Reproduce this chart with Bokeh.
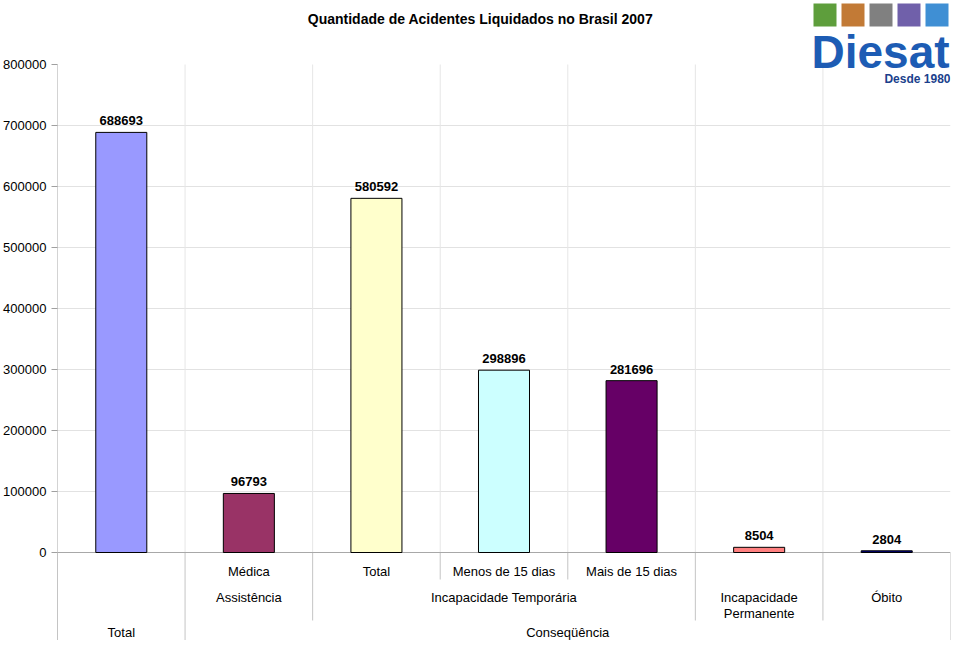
from bokeh.plotting import figure
from bokeh.models import Range1d, FixedTicker, NumeralTickFormatter
from bokeh.core.properties import value
from bokeh.embed import file_html
from bokeh.resources import INLINE

# ---------------- data ----------------
TITLE = "Quantidade de Acidentes Liquidados no Brasil 2007"
values = [688693, 96793, 580592, 298896, 281696, 8504, 2804]
bar_colors = ["#9999FF", "#993366", "#FFFFCC", "#CCFFFF", "#660066", "#FF8080", "#000080"]
level1_labels = ["", "Médica", "Total", "Menos de 15 dias", "Mais de 15 dias", "", ""]
level2_groups = [("Assistência", 1, 2), ("Incapacidade Temporária", 2, 5),
                 ("Incapacidade\nPermanente", 5, 6), ("Óbito", 6, 7)]
level3_groups = [("Total", 0, 1), ("Conseqüência", 1, 7)]
y_ticks = [0, 100000, 200000, 300000, 400000, 500000, 600000, 700000, 800000]
logo_name = "Diesat"
logo_sub = "Desde 1980"
logo_colors = ["#5e9e3c", "#c27a36", "#808080", "#7060aa", "#3f8fd4"]

# ---------------- layout (pixels, figure coordinates) ----------------
W, H = 952, 640
FRAME_L, FRAME_R = 57, 950
ZERO_Y, TOP_Y, BOTTOM_Y = 552, 64, 640
LEVEL_Y = {1: 571, 2: 597, 3: 632}
LEVEL_BOTTOM = {1: 579, 2: 620, 3: 640}
LINE_H = 16
FONT = "Liberation Sans"

n = len(values)
y_max = y_ticks[-1]
ups = y_max / (ZERO_Y - TOP_Y)
xpp = n / (FRAME_R - FRAME_L)


def ydat(py):
    return (ZERO_Y - py) * ups


def xdat(px):
    return (px - FRAME_L) * xpp


p = figure(width=W, height=H,
           x_range=Range1d(0, n), y_range=Range1d(ydat(H), ydat(0)),
           x_axis_location=None, toolbar_location=None, output_backend="svg",
           min_border_left=FRAME_L, min_border_right=W - FRAME_R,
           min_border_top=0, min_border_bottom=0)
p.outline_line_color = None
p.background_fill_color = "white"
p.border_fill_color = "white"

p.ygrid.ticker = FixedTicker(ticks=y_ticks[1:-1])
p.ygrid.grid_line_color = "#e2e2e2"
p.xgrid.visible = False

ax = p.yaxis[0]
ax.ticker = FixedTicker(ticks=y_ticks)
ax.formatter = NumeralTickFormatter(format="0")
ax.axis_line_color = None
ax.major_tick_line_color = "#a0a0a0"
ax.major_tick_out = 6
ax.major_tick_in = 0
ax.minor_tick_line_color = None
ax.major_label_standoff = 5
ax.major_label_text_font = FONT
ax.major_label_text_font_size = "13px"
ax.major_label_text_color = "black"

# vertical gridlines inside plot area
inner = list(range(1, n))
p.segment(x0=inner, y0=[0] * len(inner), x1=inner, y1=[y_max] * len(inner),
          line_color="#e6e6e6", line_width=1)

# category separators below the axis
l2_edges = set()
for _, a, b in level2_groups:
    l2_edges.update([a, b])
l3_edges = set()
for _, a, b in level3_groups:
    l3_edges.update([a, b])
sep_x, sep_y1 = [], []
for bnd in range(n + 1):
    depth = 3 if bnd in l3_edges else (2 if bnd in l2_edges else 1)
    sep_x.append(bnd)
    sep_y1.append(ydat(LEVEL_BOTTOM[depth]))
p.segment(x0=sep_x, y0=[0] * len(sep_x), x1=sep_x, y1=sep_y1,
          line_color="#c4c4c4", line_width=1)

# left axis line and baseline
p.segment(x0=[0], y0=[ydat(BOTTOM_Y)], x1=[0], y1=[y_max], line_color="#a8a8a8", line_width=1)
p.segment(x0=[0], y0=[0], x1=[n], y1=[0], line_color="#a8a8a8", line_width=1)

# bars
centers = [i + 0.5 for i in range(n)]
p.vbar(x=centers, top=values, bottom=0, width=0.4, fill_color=bar_colors,
       line_color="black", line_width=1)

# value labels
p.text(x=centers, y=[v + 7 * ups for v in values], text=[str(v) for v in values],
       text_align="center", text_baseline="bottom", text_font=value(FONT),
       text_font_style="bold", text_font_size="13px", text_color="black")

# hierarchical category labels
lx, ly, lt = [], [], []
for i, lab in enumerate(level1_labels):
    if lab:
        lx.append(i + 0.5)
        ly.append(ydat(LEVEL_Y[1]))
        lt.append(lab)
for lev, groups in ((2, level2_groups), (3, level3_groups)):
    for lab, a, b in groups:
        for k, line in enumerate(lab.split("\n")):
            lx.append((a + b) / 2)
            ly.append(ydat(LEVEL_Y[lev] + k * LINE_H))
            lt.append(line)
p.text(x=lx, y=ly, text=lt, text_align="center", text_baseline="middle",
       text_font=value(FONT), text_font_size="13px", text_color="black")

# title
p.text(x=[xdat(480)], y=[ydat(18)], text=[TITLE], text_align="center",
       text_baseline="middle", text_font=value(FONT), text_font_style="bold",
       text_font_size="14px", text_color="black")

# logo
ix0 = [813 + 28 * k for k in range(len(logo_colors))]
p.quad(left=[xdat(x) for x in ix0], right=[xdat(x + 23) for x in ix0],
       top=[ydat(3)] * len(ix0), bottom=[ydat(26)] * len(ix0),
       fill_color=logo_colors, line_color=None)
p.text(x=[xdat(880)], y=[ydat(51)], text=[logo_name], text_align="center",
       text_baseline="middle", text_font=value(FONT), text_font_style="bold",
       text_font_size="46px", text_color="#1d5cb4")
p.text(x=[xdat(950)], y=[ydat(78)], text=[logo_sub], text_align="right",
       text_baseline="middle", text_font=value(FONT), text_font_style="bold",
       text_font_size="12px", text_color="#1b3f8c")

open("out.html", "w").write(file_html(p, INLINE))
